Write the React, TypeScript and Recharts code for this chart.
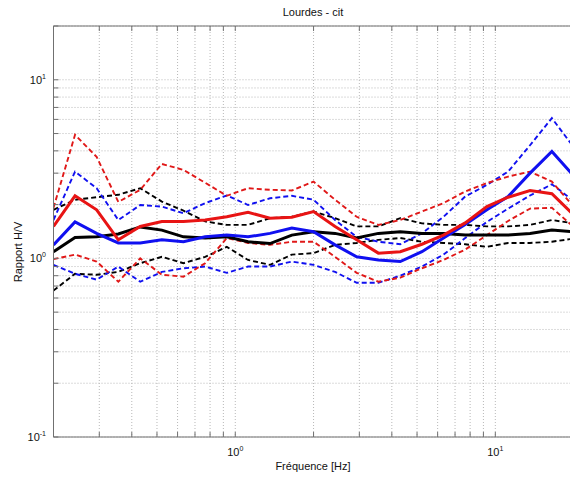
import React from "react";
import { LineChart, Line, XAxis, YAxis, CartesianGrid, ReferenceLine } from "recharts";

const freq = [0.2, 0.242, 0.293, 0.355, 0.431, 0.522, 0.632, 0.766, 0.928, 1.12, 1.36, 1.65, 2.0, 2.42, 2.93, 3.55, 4.31, 5.22, 6.32, 7.66, 9.28, 11.2, 13.6, 16.5, 20.0];

const blackMean = [1.09, 1.31, 1.32, 1.37, 1.5, 1.44, 1.32, 1.3, 1.32, 1.24, 1.21, 1.35, 1.41, 1.38, 1.3, 1.38, 1.41, 1.38, 1.38, 1.35, 1.35, 1.35, 1.38, 1.44, 1.41];
const blackHi = [1.87, 2.13, 2.2, 2.27, 2.47, 2.08, 1.85, 1.61, 1.54, 1.54, 1.68, 1.71, 1.83, 1.68, 1.51, 1.51, 1.68, 1.57, 1.54, 1.54, 1.51, 1.51, 1.54, 1.64, 1.57];
const blackLo = [0.66, 0.82, 0.81, 0.84, 0.94, 1.02, 0.94, 1.02, 1.16, 0.98, 0.92, 1.05, 1.07, 1.19, 1.22, 1.27, 1.3, 1.24, 1.22, 1.2, 1.16, 1.22, 1.22, 1.24, 1.29];

const redMean = [1.51, 2.24, 1.87, 1.27, 1.51, 1.61, 1.61, 1.64, 1.71, 1.81, 1.68, 1.7, 1.83, 1.51, 1.27, 1.07, 1.09, 1.2, 1.35, 1.58, 1.95, 2.2, 2.4, 2.3, 1.75];
const redHi = [1.92, 4.92, 3.7, 2.07, 2.42, 3.38, 3.13, 2.65, 2.24, 2.47, 2.42, 2.4, 2.69, 2.13, 1.71, 1.54, 1.64, 1.83, 2.04, 2.37, 2.64, 2.87, 3.06, 2.69, 1.95];
const redLo = [0.99, 1.05, 0.96, 0.74, 1.0, 0.81, 0.79, 0.94, 1.3, 1.22, 1.19, 1.24, 1.24, 1.02, 0.83, 0.74, 0.78, 0.88, 0.98, 1.12, 1.35, 1.62, 1.9, 1.92, 1.5];

const blueMean = [1.19, 1.6, 1.38, 1.22, 1.22, 1.27, 1.24, 1.32, 1.35, 1.32, 1.38, 1.48, 1.41, 1.19, 1.02, 0.98, 0.96, 1.09, 1.3, 1.55, 1.87, 2.22, 3.0, 3.97, 2.9];
const blueHi = [1.64, 3.06, 2.47, 1.64, 1.99, 1.95, 1.79, 2.04, 2.25, 1.99, 2.17, 2.24, 2.13, 1.64, 1.32, 1.24, 1.2, 1.38, 1.71, 2.22, 2.58, 3.06, 4.3, 6.1, 4.2];
const blueLo = [0.92, 0.82, 0.76, 0.9, 0.74, 0.84, 0.88, 0.9, 0.83, 0.9, 0.9, 0.96, 0.92, 0.84, 0.73, 0.73, 0.8, 0.9, 1.05, 1.3, 1.6, 1.9, 2.25, 2.6, 2.1];

const xTicks = [0.2, 0.3, 0.4, 0.5, 0.6, 0.7, 0.8, 0.9, 1, 2, 3, 4, 5, 6, 7, 8, 9, 10, 20];
const yTicks = [0.1, 0.2, 0.3, 0.4, 0.5, 0.6, 0.7, 0.8, 0.9, 1, 2, 3, 4, 5, 6, 7, 8, 9, 10, 20];
const xLabels: Record<string, string> = { "1": "0", "10": "1" };
const yLabels: Record<string, string> = { "0.1": "-1", "1": "0", "10": "1" };

const data = freq.map((f, i) => ({
  f,
  blackMean: blackMean[i],
  blackHi: blackHi[i],
  blackLo: blackLo[i],
  redMean: redMean[i],
  redHi: redHi[i],
  redLo: redLo[i],
  blueMean: blueMean[i],
  blueHi: blueHi[i],
  blueLo: blueLo[i],
}));

const FONT = "'Liberation Sans', Arial, sans-serif";
const PLOT_LEFT = 53.5;
const PLOT_TOP = 26;
const PLOT_BOTTOM = 437;
const AXIS = "#707070";
const TXT = "#111";

const XTick = (props: any) => {
  const { x, payload } = props;
  const exp = xLabels[String(payload.value)];
  return (
    <g>
      <line x1={x} x2={x} y1={PLOT_BOTTOM} y2={PLOT_BOTTOM - 5} stroke={AXIS} />
      <line x1={x} x2={x} y1={PLOT_TOP} y2={PLOT_TOP + 5} stroke={AXIS} />
      {exp !== undefined && (
        <text x={x} y={456} textAnchor="middle" fontSize={11} fontFamily={FONT} fill={TXT}>
          10
          <tspan dy={-5} fontSize={7}>{exp}</tspan>
        </text>
      )}
    </g>
  );
};

const YTick = (props: any) => {
  const { y, payload } = props;
  const exp = yLabels[String(payload.value)];
  return (
    <g>
      <line x1={PLOT_LEFT} x2={PLOT_LEFT + 5} y1={y} y2={y} stroke={AXIS} />
      {exp !== undefined && (
        <text x={46} y={y + 4} textAnchor="end" fontSize={11} fontFamily={FONT} fill={TXT}>
          10
          <tspan dy={-5} fontSize={7}>{exp}</tspan>
        </text>
      )}
    </g>
  );
};

const XTitle = () => (
  <text x={313} y={470} textAnchor="middle" fontSize={11} fontFamily={FONT} fill={TXT}>
    Fréquence [Hz]
  </text>
);

const YTitle = () => (
  <text x={22} y={252} transform="rotate(-90 22 252)" textAnchor="middle" fontSize={11} fontFamily={FONT} fill={TXT}>
    Rapport H/V
  </text>
);

const dash = "5 3";
const DW = 1.9;

export default function App() {
  return (
    <div style={{ position: "absolute", left: 0, top: 0, width: 570, height: 479, overflow: "hidden", background: "#fff" }}>
      <div
        style={{
          position: "absolute",
          left: 213,
          width: 200,
          top: 5,
          textAlign: "center",
          fontFamily: FONT,
          fontSize: 11,
          lineHeight: "14px",
          color: TXT,
        }}
      >
        Lourdes - cit
      </div>
      <LineChart width={580} height={479} data={data} margin={{ top: PLOT_TOP, right: 6.4, left: 0, bottom: 0 }}>
        <CartesianGrid stroke="#b8b8b8" strokeDasharray="1 2" />
        <XAxis
          dataKey="f"
          type="number"
          scale="log"
          domain={[0.2, 20]}
          allowDataOverflow
          ticks={xTicks}
          interval={0}
          height={42}
          axisLine={{ stroke: AXIS }}
          tickLine={false}
          tick={<XTick />}
          label={<XTitle />}
        />
        <YAxis
          type="number"
          scale="log"
          domain={[0.1, 20]}
          allowDataOverflow
          ticks={yTicks}
          interval={0}
          width={PLOT_LEFT}
          axisLine={{ stroke: AXIS }}
          tickLine={false}
          tick={<YTick />}
          label={<YTitle />}
        />
        <ReferenceLine y={20} stroke={AXIS} ifOverflow="extendDomain" />
        <Line dataKey="blackHi" stroke="#000" strokeWidth={DW} strokeDasharray={dash} dot={false} isAnimationActive={false} />
        <Line dataKey="blackLo" stroke="#000" strokeWidth={DW} strokeDasharray={dash} dot={false} isAnimationActive={false} />
        <Line dataKey="blueHi" stroke="#1010f0" strokeWidth={DW} strokeDasharray={dash} dot={false} isAnimationActive={false} />
        <Line dataKey="blueLo" stroke="#1010f0" strokeWidth={DW} strokeDasharray={dash} dot={false} isAnimationActive={false} />
        <Line dataKey="redHi" stroke="#e01818" strokeWidth={DW} strokeDasharray={dash} dot={false} isAnimationActive={false} />
        <Line dataKey="redLo" stroke="#e01818" strokeWidth={DW} strokeDasharray={dash} dot={false} isAnimationActive={false} />
        <Line dataKey="blackMean" stroke="#000" strokeWidth={3} dot={false} isAnimationActive={false} />
        <Line dataKey="blueMean" stroke="#1010f0" strokeWidth={3} dot={false} isAnimationActive={false} />
        <Line dataKey="redMean" stroke="#e81414" strokeWidth={3} dot={false} isAnimationActive={false} />
      </LineChart>
    </div>
  );
}
